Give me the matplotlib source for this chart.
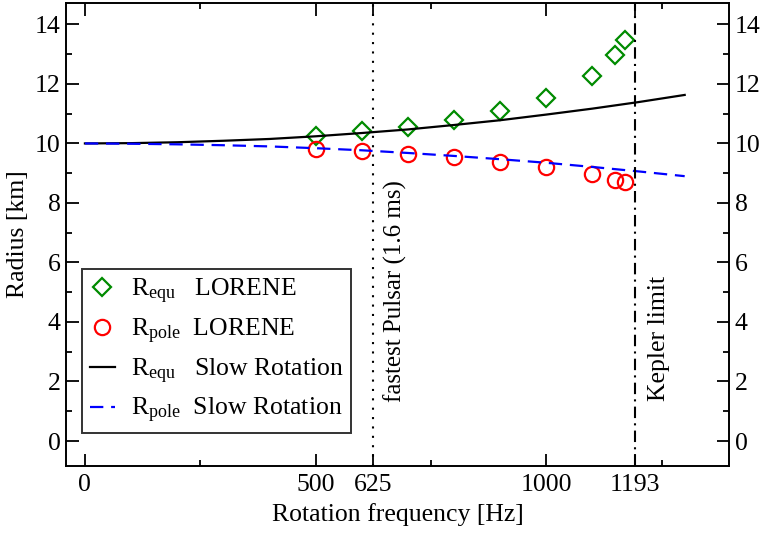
import matplotlib
matplotlib.use("Agg")
import matplotlib.pyplot as plt
from matplotlib.ticker import FixedLocator

# LORENE results
freq_lorene = [500, 600, 700, 800, 900, 1000, 1100, 1150, 1170]
r_equ_lorene = [10.26, 10.42, 10.56, 10.80, 11.10, 11.54, 12.28, 12.98, 13.47]
r_pole_lorene = [9.81, 9.74, 9.63, 9.55, 9.39, 9.21, 8.97, 8.78, 8.69]

# slow rotation approximation
freq_slow = [0, 100, 200, 300, 400, 500, 600, 700, 800, 900, 1000, 1100, 1200, 1300]
r_equ_slow = [10.00, 10.01, 10.04, 10.09, 10.15, 10.24, 10.35, 10.47, 10.62,
              10.78, 10.97, 11.17, 11.39, 11.63]
r_pole_slow = [10.00, 9.99, 9.97, 9.94, 9.90, 9.84, 9.77, 9.68, 9.58,
               9.47, 9.35, 9.21, 9.06, 8.90]

f_pulsar = 625
f_kepler = 1193

xticks_major = [0, 500, 625, 1000, 1193]
xticks_minor = [250, 750, 1250]
yticks_major = [0, 2, 4, 6, 8, 10, 12, 14]
yticks_minor = [1, 3, 5, 7, 9, 11, 13]

plt.rcParams['font.family'] = ['Liberation Serif', 'DejaVu Serif']
plt.rcParams['mathtext.fontset'] = 'custom'
plt.rcParams['mathtext.rm'] = 'Liberation Serif'
plt.rcParams['mathtext.it'] = 'Liberation Serif:italic'
fs = 18.5

fig = plt.figure(figsize=(7.63, 5.33), dpi=100)
ax = fig.add_axes([0.0865, 0.1257, 0.8689, 0.8687])

ax.plot(freq_lorene, r_equ_lorene, linestyle='none', marker='D', ms=9.5,
        mfc='none', mec='#008b00', mew=1.6, label=r"R$_{\rm equ}$   LORENE")
ax.plot(freq_lorene, r_pole_lorene, linestyle='none', marker='o', ms=11,
        mfc='none', mec='#ff0000', mew=1.6, label=r"R$_{\rm pole}$  LORENE")
ax.plot(freq_slow, r_equ_slow, color='black', lw=1.6,
        label=r"R$_{\rm equ}$   Slow Rotation")
ax.plot(freq_slow, r_pole_slow, color='#0000ff', lw=1.6, dashes=(6, 3.5),
        label=r"R$_{\rm pole}$  Slow Rotation")

ax.axvline(f_pulsar, color='black', lw=1.5, linestyle=(0, (1, 3.5)))
ax.axvline(f_kepler, color='black', lw=1.5, linestyle=(0, (5.5, 2.5, 1, 2.5)))

ax.text(f_pulsar + 47, 1.3, "fastest Pulsar (1.6 ms)", rotation=90,
        ha='center', va='bottom', fontsize=18)
ax.text(f_kepler + 52, 1.35, "Kepler limit", rotation=90,
        ha='center', va='bottom', fontsize=18.5)

ax.set_xlim(-41, 1396)
ax.set_ylim(-0.84, 14.72)

ax.xaxis.set_major_locator(FixedLocator(xticks_major))
ax.xaxis.set_minor_locator(FixedLocator(xticks_minor))
ax.yaxis.set_major_locator(FixedLocator(yticks_major))
ax.yaxis.set_minor_locator(FixedLocator(yticks_minor))
ax.tick_params(which='both', direction='in', top=True, right=True,
               labelright=True, width=1.3, labelsize=fs)
ax.tick_params(which='major', length=9, pad=4)
ax.tick_params(axis='x', which='major', pad=6)
ax.tick_params(which='minor', length=4.5)
for s in ax.spines.values():
    s.set_linewidth(1.4)

ax.set_xlabel("Rotation frequency [Hz]", fontsize=fs, labelpad=5)
ax.set_ylabel("Radius [km]", fontsize=fs, labelpad=4)

leg = ax.legend(loc='lower left', bbox_to_anchor=(0.024, 0.071),
                borderaxespad=0, fancybox=False, fontsize=fs,
                handlelength=1.0, handletextpad=0.6, labelspacing=0.42,
                borderpad=0.3, framealpha=1)
leg.get_frame().set_edgecolor('#333333')
leg.get_frame().set_linewidth(1.4)

fig.savefig("out.png", dpi=100)
